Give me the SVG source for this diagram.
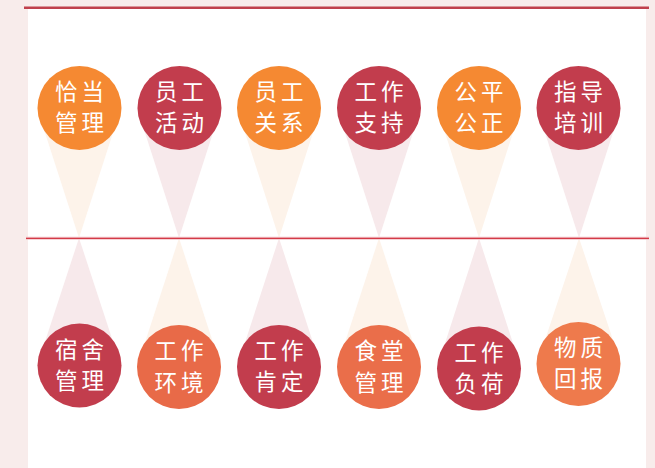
<svg xmlns="http://www.w3.org/2000/svg" width="655" height="468" viewBox="0 0 655 468">
  <style>
    .lbl { font-family: "Noto Sans CJK SC", "Noto Sans", sans-serif; font-size: 22.5px; font-weight: 400; fill: #ffffff; text-anchor: middle; letter-spacing: 4px; }
    .red { fill: #c23d4d; }
    .org { fill: #f58932; }
    .tr { fill: #f7e9eb; }
    .to { fill: #fdf3ea; }
  </style>
  <rect x="0" y="0" width="655" height="468" fill="#f8eceb"/>
  <rect x="28" y="8" width="618" height="460" fill="#ffffff"/>
  <line x1="24" y1="7.8" x2="649" y2="7.8" stroke="#c0404c" stroke-width="2.5"/>
  <g id="connectors">
    <polygon class="to" points="37,108 121,108 79,238"/>
    <polygon class="tr" points="137,108 221,108 179,238"/>
    <polygon class="to" points="237,108 321,108 279,238"/>
    <polygon class="tr" points="337,108 421,108 379,238"/>
    <polygon class="to" points="437,108 521,108 479,238"/>
    <polygon class="tr" points="537,108 621,108 579,238"/>
    <polygon class="tr" points="37,366 121,366 79,238"/>
    <polygon class="to" points="137,367 221,367 179,238"/>
    <polygon class="tr" points="237,367 321,367 279,238"/>
    <polygon class="to" points="337,367 421,367 379,238"/>
    <polygon class="tr" points="437,368 521,368 479,238"/>
    <polygon class="to" points="537,364 621,364 579,238"/>
  </g>
  <line x1="26" y1="238.3" x2="649" y2="238.3" stroke="#f3c4c8" stroke-width="3"/>
  <line x1="26" y1="238.3" x2="649" y2="238.3" stroke="#d33a47" stroke-width="1.3"/>
  <g id="n1"><circle class="org" cx="79.5" cy="108" r="42"/><text class="lbl" x="81.5" y="100">恰当</text><text class="lbl" x="81.5" y="131">管理</text></g>
  <g id="n2"><circle class="red" cx="179.5" cy="108" r="42"/><text class="lbl" x="181.5" y="100">员工</text><text class="lbl" x="181.5" y="131">活动</text></g>
  <g id="n3"><circle class="org" cx="279" cy="108" r="42"/><text class="lbl" x="281" y="100">员工</text><text class="lbl" x="281" y="131">关系</text></g>
  <g id="n4"><circle class="red" cx="379" cy="108" r="42"/><text class="lbl" x="381" y="100">工作</text><text class="lbl" x="381" y="131">支持</text></g>
  <g id="n5"><circle class="org" cx="479" cy="108" r="42"/><text class="lbl" x="481" y="100">公平</text><text class="lbl" x="481" y="131">公正</text></g>
  <g id="n6"><circle class="red" cx="578.5" cy="108" r="42"/><text class="lbl" x="580.5" y="100">指导</text><text class="lbl" x="580.5" y="131">培训</text></g>
  <g id="n7"><circle class="red" cx="79.5" cy="365.5" r="42"/><text class="lbl" x="81.5" y="358">宿舍</text><text class="lbl" x="81.5" y="389">管理</text></g>
  <g id="n8"><circle cx="179" cy="367" r="42" fill="#e86a48"/><text class="lbl" x="181" y="359">工作</text><text class="lbl" x="181" y="391">环境</text></g>
  <g id="n9"><circle class="red" cx="279" cy="367" r="42"/><text class="lbl" x="281" y="359">工作</text><text class="lbl" x="281" y="390">肯定</text></g>
  <g id="n10"><circle cx="379" cy="367" r="42" fill="#ea6e4a"/><text class="lbl" x="381" y="359">食堂</text><text class="lbl" x="381" y="391">管理</text></g>
  <g id="n11"><circle class="red" cx="479" cy="368.5" r="42"/><text class="lbl" x="481" y="361">工作</text><text class="lbl" x="481" y="392">负荷</text></g>
  <g id="n12"><circle cx="578.5" cy="364" r="42" fill="#ee7a4c"/><text class="lbl" x="580.5" y="356">物质</text><text class="lbl" x="580.5" y="387">回报</text></g>
</svg>
